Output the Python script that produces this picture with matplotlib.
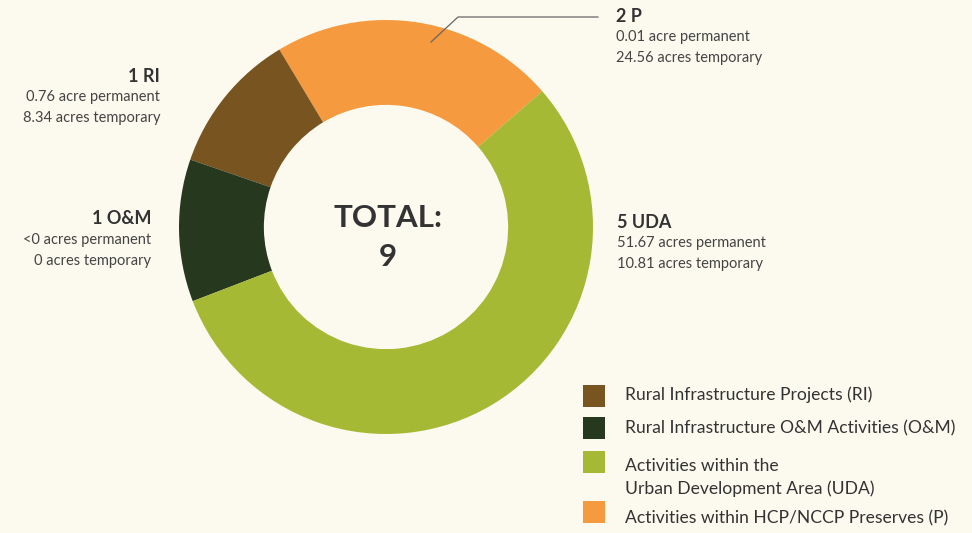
import matplotlib.pyplot as plt
from matplotlib.patches import Rectangle

plt.rcParams['font.family'] = ['Lato', 'DejaVu Sans']

# project counts by category (pie goes counterclockwise from the P/UDA boundary)
codes = ['P', 'RI', 'O&M', 'UDA']
counts = [2, 1, 1, 5]
colors = ['#f59a3e', '#785420', '#26391f', '#a6b934']

permanent = {'RI': '0.76 acre permanent', 'O&M': '<0 acres permanent',
             'UDA': '51.67 acres permanent', 'P': '0.01 acre permanent'}
temporary = {'RI': '8.34 acres temporary', 'O&M': '0 acres temporary',
             'UDA': '10.81 acres temporary', 'P': '24.56 acres temporary'}

legend_codes = ['RI', 'O&M', 'UDA', 'P']
legend_labels = ['Rural Infrastructure Projects (RI)',
                 'Rural Infrastructure O&M Activities (O&M)',
                 'Activities within the\nUrban Development Area (UDA)',
                 'Activities within HCP/NCCP Preserves (P)']

bg = '#fcfaef'
txt = '#333333'
W, H = 972, 533

fig = plt.figure(figsize=(9.72, 5.33), dpi=100, facecolor=bg)
ax = fig.add_axes([0, 0, 1, 1])
ax.set_facecolor(bg)

cx, cy, r = 386, H - 227, 207
ax.pie(counts, colors=colors, startangle=41, counterclock=True,
       center=(cx, cy), radius=r, wedgeprops=dict(width=r * 0.41, linewidth=0),
       frame=True)
ax.set_xlim(0, W)
ax.set_ylim(0, H)
ax.set_aspect('equal')
ax.axis('off')

ax.text(cx + 2, H - 218, 'TOTAL:', ha='center', va='center', fontsize=22.5,
        fontweight='bold', color=txt)
ax.text(cx + 2, H - 257, str(sum(counts)), ha='center', va='center',
        fontsize=22.5, fontweight='bold', color=txt)

total = dict(zip(codes, counts))

def label(x, y, code, ha):
    ax.text(x, H - y, f'{total[code]} {code}', ha=ha, va='center',
            fontsize=13, fontweight='bold', color=txt)
    ax.text(x, H - y - 21, permanent[code], ha=ha, va='center', fontsize=10.5, color='#444444')
    ax.text(x, H - y - 42, temporary[code], ha=ha, va='center', fontsize=10.5, color='#444444')

label(160, 76, 'RI', 'right')
label(151, 219, 'O&M', 'right')
label(616, 16, 'P', 'left')
label(617, 222, 'UDA', 'left')

# leader line for P
ax.plot([431, 458, 598], [H - 42, H - 17, H - 17], color='#666666', lw=0.9)

# legend: square centre and first text line centre (pixels from top)
squares = [396, 428, 462, 512]
text_rows = [395, 428, 466, 518]
for code, lab, sy, ty in zip(legend_codes, legend_labels, squares, text_rows):
    c = colors[codes.index(code)]
    ax.add_patch(Rectangle((583, H - sy - 11), 22, 22, color=c, lw=0))
    for i, line in enumerate(lab.split('\n')):
        ax.text(625, H - ty - 23 * i, line, ha='left', va='center',
                fontsize=12.6, color=txt)

fig.savefig('out.png', dpi=100, facecolor=bg)
